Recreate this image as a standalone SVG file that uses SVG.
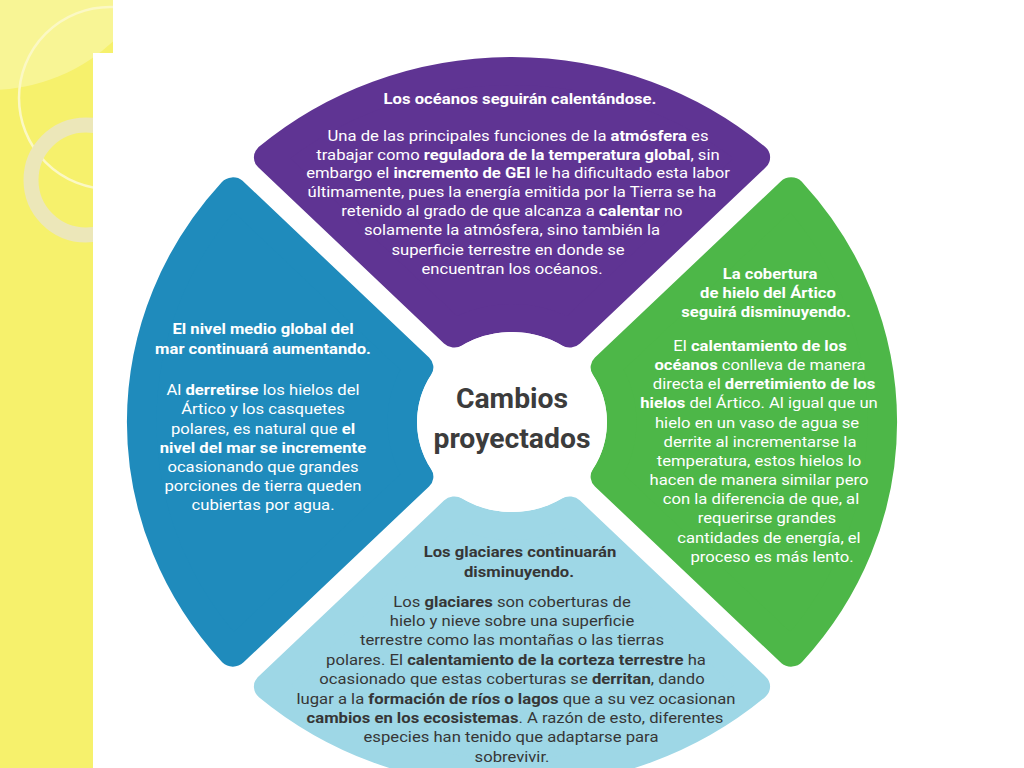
<svg xmlns="http://www.w3.org/2000/svg" width="1024" height="768" viewBox="0 0 1024 768">
<style>
.t{font-family:Roboto,"Liberation Sans",sans-serif;font-size:15.5px;text-anchor:middle}
.w{fill:#ffffff}
.d{fill:#363636}
.b{font-weight:700}
.c{font-family:Roboto,"Liberation Sans",sans-serif;font-size:27px;font-weight:700;fill:#3c3c3c;text-anchor:middle}
.seg{stroke-width:28;stroke-linejoin:round}
</style>
<defs>
<clipPath id="yc"><rect x="0" y="0" width="113" height="53"/><rect x="0" y="0" width="93" height="768"/></clipPath>
<path id="segp" d="M -54.58,-88.52 L -230.65,-264.59 A 351 351 0 0 1 230.65,-264.59 L 54.58,-88.52 A 104 104 0 0 0 -54.58,-88.52 Z"/>
</defs>
<rect x="0" y="0" width="1024" height="768" fill="#ffffff"/>
<g id="background" clip-path="url(#yc)">
<rect x="0" y="0" width="113" height="768" fill="#f6f16c"/>
<circle cx="-10" cy="-90" r="180" fill="#ffffff" opacity="0.28"/>
<circle cx="110" cy="98" r="91" fill="none" stroke="#fbf8c4" stroke-width="2.5"/>
<circle cx="86" cy="180" r="55" fill="none" stroke="#ece7b9" stroke-width="15"/>
</g>
<g id="connectors"/>
<g id="node-top">
<use href="#segp" class="seg" fill="#5f3493" stroke="#5f3493" transform="translate(512,422) scale(1.055,1)"/>
<text class="t w b" transform="translate(520,104) scale(1.075,1)">Los océanos seguirán calentándose.</text>
<text class="t w" transform="translate(518,141) scale(1.075,1)">Una de las principales funciones de la <tspan class="b">atmósfera</tspan> es</text>
<text class="t w" transform="translate(518,160) scale(1.075,1)">trabajar como <tspan class="b">reguladora de la temperatura global</tspan>, sin</text>
<text class="t w" transform="translate(518,178) scale(1.075,1)">embargo el <tspan class="b">incremento de GEI</tspan> le ha dificultado esta labor</text>
<text class="t w" transform="translate(512,197) scale(1.075,1)">últimamente, pues la energía emitida por la Tierra se ha</text>
<text class="t w" transform="translate(512,216) scale(1.075,1)">retenido al grado de que alcanza a <tspan class="b">calentar</tspan> no</text>
<text class="t w" transform="translate(512,235) scale(1.075,1)">solamente la atmósfera, sino también la</text>
<text class="t w" transform="translate(508,255) scale(1.075,1)">superficie terrestre en donde se</text>
<text class="t w" transform="translate(512,274) scale(1.075,1)">encuentran los océanos.</text>
</g>
<g id="node-right">
<use href="#segp" class="seg" fill="#4db748" stroke="#4db748" transform="translate(512,422) scale(1.055,1) rotate(90)"/>
<text class="t w b" transform="translate(770,279) scale(1.075,1)">La cobertura</text>
<text class="t w b" transform="translate(768,298) scale(1.075,1)">de hielo del Ártico</text>
<text class="t w b" transform="translate(766,317) scale(1.075,1)">seguirá disminuyendo.</text>
<text class="t w" transform="translate(760,351) scale(1.075,1)">El <tspan class="b">calentamiento de los</tspan></text>
<text class="t w" transform="translate(760,370) scale(1.075,1)"><tspan class="b">océanos</tspan> conlleva de manera</text>
<text class="t w" transform="translate(764,389) scale(1.075,1)">directa el <tspan class="b">derretimiento de los</tspan></text>
<text class="t w" transform="translate(759,408) scale(1.075,1)"><tspan class="b">hielos</tspan> del Ártico. Al igual que un</text>
<text class="t w" transform="translate(757,428) scale(1.075,1)">hielo en un vaso de agua se</text>
<text class="t w" transform="translate(760,447) scale(1.075,1)">derrite al incrementarse la</text>
<text class="t w" transform="translate(759,466) scale(1.075,1)">temperatura, estos hielos lo</text>
<text class="t w" transform="translate(759,485) scale(1.075,1)">hacen de manera similar pero</text>
<text class="t w" transform="translate(761,504) scale(1.075,1)">con la diferencia de que, al</text>
<text class="t w" transform="translate(767,523) scale(1.075,1)">requerirse grandes</text>
<text class="t w" transform="translate(769,543) scale(1.075,1)">cantidades de energía, el</text>
<text class="t w" transform="translate(772,562) scale(1.075,1)">proceso es más lento.</text>
</g>
<g id="node-bottom">
<use href="#segp" class="seg" fill="#9ed7e6" stroke="#9ed7e6" transform="translate(512,422) scale(1.055,1) rotate(180)"/>
<text class="t d b" transform="translate(520,557) scale(1.075,1)">Los glaciares continuarán</text>
<text class="t d b" transform="translate(519,577) scale(1.075,1)">disminuyendo.</text>
<text class="t d" transform="translate(512,607) scale(1.075,1)">Los <tspan class="b">glaciares</tspan> son coberturas de</text>
<text class="t d" transform="translate(512,626) scale(1.075,1)">hielo y nieve sobre una superficie</text>
<text class="t d" transform="translate(512,645) scale(1.075,1)">terrestre como las montañas o las tierras</text>
<text class="t d" transform="translate(516,665) scale(1.075,1)">polares. El <tspan class="b">calentamiento de la corteza terrestre</tspan> ha</text>
<text class="t d" transform="translate(512,684) scale(1.075,1)">ocasionado que estas coberturas se <tspan class="b">derritan</tspan>, dando</text>
<text class="t d" transform="translate(516,704) scale(1.075,1)">lugar a la <tspan class="b">formación de ríos o lagos</tspan> que a su vez ocasionan</text>
<text class="t d" transform="translate(515,723) scale(1.075,1)"><tspan class="b">cambios en los ecosistemas</tspan>. A razón de esto, diferentes</text>
<text class="t d" transform="translate(511,742) scale(1.075,1)">especies han tenido que adaptarse para</text>
<text class="t d" transform="translate(512,762) scale(1.075,1)">sobrevivir.</text>
</g>
<g id="node-left">
<use href="#segp" class="seg" fill="#1f8bbc" stroke="#1f8bbc" transform="translate(512,422) scale(1.055,1) rotate(270)"/>
<text class="t w b" transform="translate(263,334) scale(1.075,1)">El nivel medio global del</text>
<text class="t w b" transform="translate(263,354) scale(1.075,1)">mar continuará aumentando.</text>
<text class="t w" transform="translate(263,395) scale(1.075,1)">Al <tspan class="b">derretirse</tspan> los hielos del</text>
<text class="t w" transform="translate(263,414) scale(1.075,1)">Ártico y los casquetes</text>
<text class="t w" transform="translate(263,434) scale(1.075,1)">polares, es natural que <tspan class="b">el</tspan></text>
<text class="t w b" transform="translate(263,453) scale(1.075,1)">nivel del mar se incremente</text>
<text class="t w" transform="translate(263,472) scale(1.075,1)">ocasionando que grandes</text>
<text class="t w" transform="translate(263,491) scale(1.075,1)">porciones de tierra queden</text>
<text class="t w" transform="translate(263,510) scale(1.075,1)">cubiertas por agua.</text>
</g>
<g id="node-center">
<ellipse cx="512" cy="422" rx="95" ry="90" fill="#ffffff"/>
<text class="c" transform="translate(512,408) scale(1.05,1)">Cambios</text>
<text class="c" transform="translate(512,448) scale(1.05,1)">proyectados</text>
</g>
</svg>
